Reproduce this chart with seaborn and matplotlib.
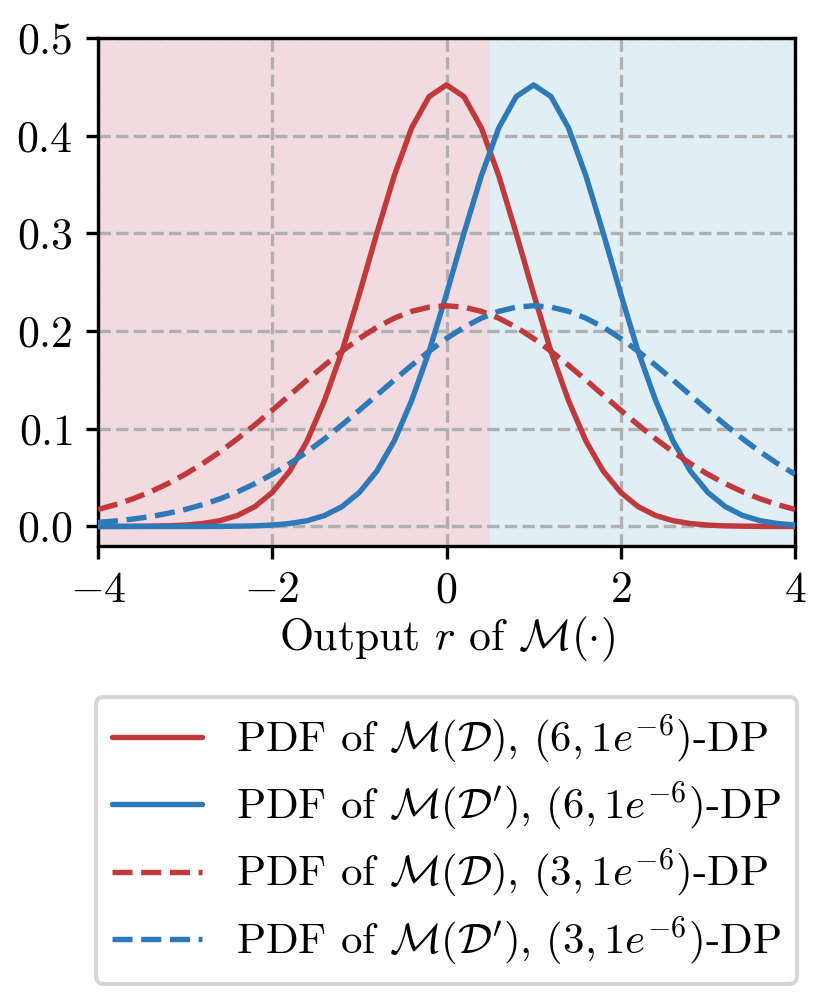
import numpy as np
import pandas as pd
import matplotlib
matplotlib.use("Agg")
import matplotlib.pyplot as plt
import seaborn as sns

# ---- data ----
x_vals = [-4.0, -3.8, -3.6, -3.4, -3.2, -3.0, -2.8, -2.6, -2.4, -2.2, -2.0,
          -1.8, -1.6, -1.4, -1.2, -1.0, -0.8, -0.6, -0.4, -0.2, 0.0,
          0.2, 0.4, 0.6, 0.8, 1.0, 1.2, 1.4, 1.6, 1.8, 2.0,
          2.2, 2.4, 2.6, 2.8, 3.0, 3.2, 3.4, 3.6, 3.8, 4.0]

red_solid = [0.0000, 0.0000, 0.0001, 0.0003, 0.0006, 0.0014, 0.0030, 0.0059, 0.0112, 0.0203, 0.0348,
             0.0566, 0.0875, 0.129, 0.179, 0.238, 0.300, 0.359, 0.408, 0.440, 0.452,
             0.440, 0.408, 0.359, 0.300, 0.238, 0.179, 0.129, 0.0875, 0.0566, 0.0348,
             0.0203, 0.0112, 0.0059, 0.0030, 0.0014, 0.0006, 0.0003, 0.0001, 0.0000, 0.0000]

blue_solid = [0.0000, 0.0000, 0.0000, 0.0000, 0.0000, 0.0000, 0.0000, 0.0001, 0.0003, 0.0006, 0.0014,
              0.0030, 0.0059, 0.0112, 0.0203, 0.0348, 0.0566, 0.0875, 0.129, 0.179, 0.238,
              0.300, 0.359, 0.408, 0.440, 0.452, 0.440, 0.408, 0.359, 0.300, 0.238,
              0.179, 0.129, 0.0875, 0.0566, 0.0348, 0.0203, 0.0112, 0.0059, 0.0030, 0.0014]

red_dashed = [0.0174, 0.0223, 0.0283, 0.0354, 0.0438, 0.0534, 0.0643, 0.0764, 0.0897, 0.1040, 0.1190,
              0.1344, 0.1499, 0.1650, 0.1793, 0.1924, 0.2039, 0.2132, 0.2202, 0.2245, 0.2259,
              0.2245, 0.2202, 0.2132, 0.2039, 0.1924, 0.1793, 0.1650, 0.1499, 0.1344, 0.1190,
              0.1040, 0.0897, 0.0764, 0.0643, 0.0534, 0.0438, 0.0354, 0.0283, 0.0223, 0.0174]

blue_dashed = [0.0041, 0.0056, 0.0076, 0.0101, 0.0134, 0.0174, 0.0223, 0.0283, 0.0354, 0.0438, 0.0534,
               0.0643, 0.0764, 0.0897, 0.1040, 0.1190, 0.1344, 0.1499, 0.1650, 0.1793, 0.1924,
               0.2039, 0.2132, 0.2202, 0.2245, 0.2259, 0.2245, 0.2202, 0.2132, 0.2039, 0.1924,
               0.1793, 0.1650, 0.1499, 0.1344, 0.1190, 0.1040, 0.0897, 0.0764, 0.0643, 0.0534]

labels = [r"PDF of $\mathcal{M}(\mathcal{D})$, $(6, 1e^{-6})$-DP",
          r"PDF of $\mathcal{M}(\mathcal{D}')$, $(6, 1e^{-6})$-DP",
          r"PDF of $\mathcal{M}(\mathcal{D})$, $(3, 1e^{-6})$-DP",
          r"PDF of $\mathcal{M}(\mathcal{D}')$, $(3, 1e^{-6})$-DP"]

split_x = 0.5
x_ticks = [-4, -2, 0, 2, 4]
y_ticks = [0.0, 0.1, 0.2, 0.3, 0.4, 0.5]

# ---- style ----
sns.set_style("ticks")
FS = 10.5
LFS = 10.3
plt.rcParams.update({
    "font.family": "serif",
    "font.serif": ["cmr10", "DejaVu Serif"],
    "mathtext.fontset": "cm",
    "axes.formatter.use_mathtext": True,
    "axes.unicode_minus": True,
    "font.size": FS,
    "text.color": "black",
    "axes.labelcolor": "black",
    "xtick.color": "black",
    "ytick.color": "black",
    "xtick.direction": "out",
    "ytick.direction": "out",
    "axes.edgecolor": "black",
    "axes.linewidth": 0.8,
})

RED = "#c0393d"
BLUE = "#2e79b8"

fig = plt.figure(figsize=(829 / 300, 1004 / 300), dpi=300)
ax = fig.add_axes([98 / 829, 1 - 546 / 1004, (795 - 98) / 829, (546 - 38) / 1004])

ax.axvspan(-4, split_x, color="#f2dbe0", zorder=0, lw=0)
ax.axvspan(split_x, 4, color="#e1eef6", zorder=0, lw=0)

series = [(red_solid, RED, "-"), (blue_solid, BLUE, "-"),
          (red_dashed, RED, "--"), (blue_dashed, BLUE, "--")]
for (vals, col, ls), lab in zip(series, labels):
    df = pd.DataFrame({"x": x_vals, "y": vals})
    sns.lineplot(data=df, x="x", y="y", ax=ax, color=col, linestyle=ls,
                 linewidth=1.3, label=lab, zorder=3)

ax.set_xlim(-4, 4)
ax.set_ylim(-0.02, 0.5)
ax.set_xticks(x_ticks)
ax.set_yticks(y_ticks)
ax.grid(True, linestyle="--", color="#b0b0b0", linewidth=0.8, zorder=1)
ax.set_axisbelow(True)
ax.tick_params(length=3, width=0.8, labelsize=FS, pad=3)
ax.set_xlabel(r"Output $r$ of $\mathcal{M}(\cdot)$", fontsize=FS, labelpad=1)
ax.set_ylabel("")

leg = ax.legend(loc="upper center", bbox_to_anchor=(0.5, -0.297), borderaxespad=0,
                fontsize=LFS, handlelength=2.1, handletextpad=0.8, labelspacing=0.33,
                borderpad=0.37, frameon=True, fancybox=True, edgecolor="#cccccc")

fig.savefig("out.png", dpi=300)
